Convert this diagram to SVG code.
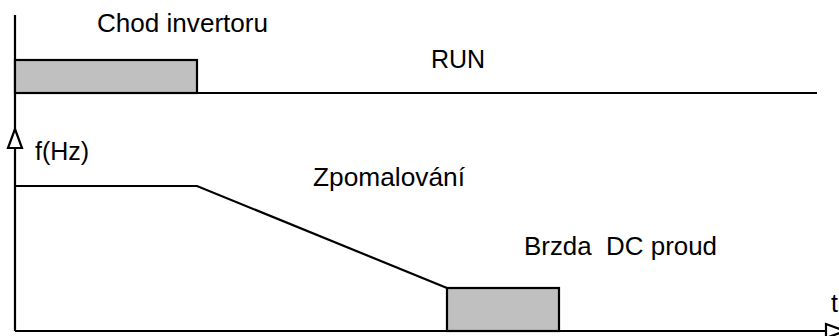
<svg xmlns="http://www.w3.org/2000/svg" width="839" height="336" viewBox="0 0 839 336">
<style>
.ln{fill:none;stroke:#000;stroke-width:2.2}
.box{fill:#c0c0c0;stroke:#000;stroke-width:2.2}
.ar{fill:#fff;stroke:#000;stroke-width:2.2}
text{font-family:"Liberation Sans",Arial,sans-serif;font-size:25px;fill:#000;white-space:pre}
</style>
<rect width="839" height="336" fill="#fff"/>
<g id="connectors">
<line class="ln" x1="15" y1="15" x2="15" y2="331"/>
<line class="ln" x1="15" y1="93" x2="817" y2="93"/>
<line class="ln" x1="15" y1="331" x2="830" y2="331"/>
<polyline class="ln" points="15,186 197,186 447,288"/>
<polygon class="ar" points="15,129 8,148 22,148"/>
<polygon class="ar" points="845,331 826,324 826,338"/>
</g>
<g id="run-box"><rect class="box" x="15" y="60" width="182" height="33"/></g>
<g id="brake-box"><rect class="box" x="447" y="288" width="112" height="43"/></g>
<g id="labels">
<text x="97" y="32" textLength="171" lengthAdjust="spacingAndGlyphs">Chod invertoru</text>
<text x="431" y="68">RUN</text>
<text x="35" y="160">f(Hz)</text>
<text x="313" y="186" textLength="152" lengthAdjust="spacingAndGlyphs">Zpomalování</text>
<text x="524" y="255" xml:space="preserve" textLength="193" lengthAdjust="spacingAndGlyphs">Brzda  DC proud</text>
<text x="831" y="312">t</text>
</g>
</svg>
